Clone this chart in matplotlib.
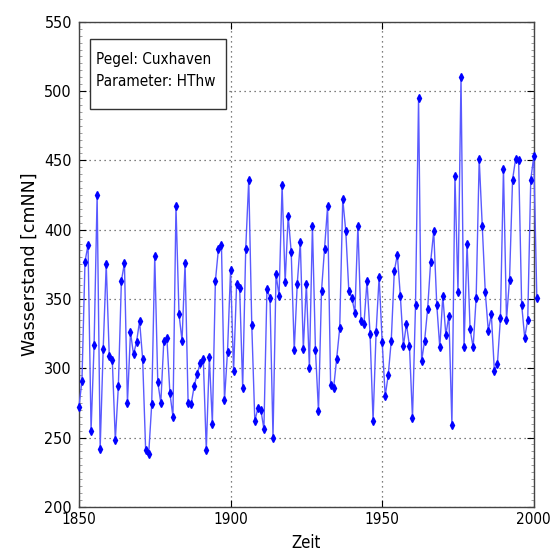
#!/usr/bin/env python3
"""
HThw Cuxhaven — annual high tide water level series, 1850-2001.
Output: out.png
"""

import matplotlib.pyplot as plt
from matplotlib.ticker import MultipleLocator
import numpy as np

# --- Data (annual HThw in cm NN) ---
start_year = 1850
hthw = [
    272, 291, 377, 389, 255, 317, 425, 242, 314, 375,
    309, 306, 248, 287, 363, 376, 275, 326, 310, 319,
    334, 307, 241, 238, 274, 381, 290, 275, 320, 322,
    282, 265, 417, 339, 320, 376, 275, 274, 287, 296,
    304, 307, 241, 308, 260, 363, 386, 389, 277, 312,
    371, 298, 361, 358, 286, 386, 436, 331, 262, 271,
    270, 256, 357, 351, 250, 368, 352, 432, 362, 410,
    384, 313, 361, 391, 314, 361, 300, 403, 313, 269,
    356, 386, 417, 288, 286, 307, 329, 422, 399, 356,
    351, 340, 403, 334, 332, 363, 325, 262, 326, 366,
    319, 280, 295, 320, 370, 382, 352, 316, 332, 316,
    264, 346, 495, 305, 320, 343, 377, 399, 346, 315,
    352, 324, 338, 259, 439, 355, 510, 315, 390, 328,
    315, 351, 451, 403, 355, 327, 339, 298, 303, 336,
    444, 335, 364, 436, 451, 450, 346, 322, 335, 436,
    453, 351,
]
years = np.arange(start_year, start_year + len(hthw))

x_ticks = [1850, 1900, 1950, 2000]
y_ticks = [200, 250, 300, 350, 400, 450, 500, 550]

NARROW = dict(family='DejaVu Sans', stretch='condensed')
LINE_BLUE = '#5a5aff'
MARK_BLUE = '#0000ff'

fig = plt.figure(figsize=(5.52, 5.60), dpi=100)
fig.patch.set_facecolor('white')
ax = fig.add_axes([0.143, 0.095, 0.824, 0.866])

ax.plot(years, hthw, color=LINE_BLUE, linewidth=1.0, marker='d',
        markersize=3.6, markerfacecolor=MARK_BLUE, markeredgecolor=MARK_BLUE,
        clip_on=False, zorder=3)

ax.set_xlim(1850, 2000)
ax.set_ylim(200, 550)
ax.set_xticks(x_ticks)
ax.set_yticks(y_ticks)
ax.yaxis.set_minor_locator(MultipleLocator(5))
ax.tick_params(which='both', direction='in', top=True, right=True)
ax.tick_params(which='major', length=5, width=0.8)
ax.tick_params(which='minor', length=2.5, width=0.5, color='#777777')
ax.tick_params(axis='x', pad=4)
ax.tick_params(axis='y', pad=5)
ax.set_xticklabels([str(t) for t in x_ticks], fontsize=11, **NARROW)
ax.set_yticklabels([str(t) for t in y_ticks], fontsize=11.5, **NARROW)

ax.grid(True, which='major', linestyle=(0, (1, 3)), color='#555555',
        linewidth=0.9)

for s in ax.spines.values():
    s.set_linewidth(1.0)
    s.set_color('#444444')

ax.set_xlabel('Zeit', fontsize=12, labelpad=5, **NARROW)
ax.set_ylabel('Wasserstand [cmNN]', fontsize=12.5, family='DejaVu Sans',
              labelpad=4)

ax.text(0.038, 0.938, 'Pegel: Cuxhaven\nParameter: HThw',
        transform=ax.transAxes, ha='left', va='top', fontsize=11,
        linespacing=1.55, zorder=5, **NARROW)
# frame of the annotation box, in axes coordinates
ax.add_patch(plt.Rectangle((0.024, 0.8206), 0.30, 0.144,
                           transform=ax.transAxes, facecolor='white',
                           edgecolor='#333333', linewidth=1.0, zorder=4))

plt.savefig('out.png', dpi=100, facecolor='white')
plt.close()
print('Saved out.png')
